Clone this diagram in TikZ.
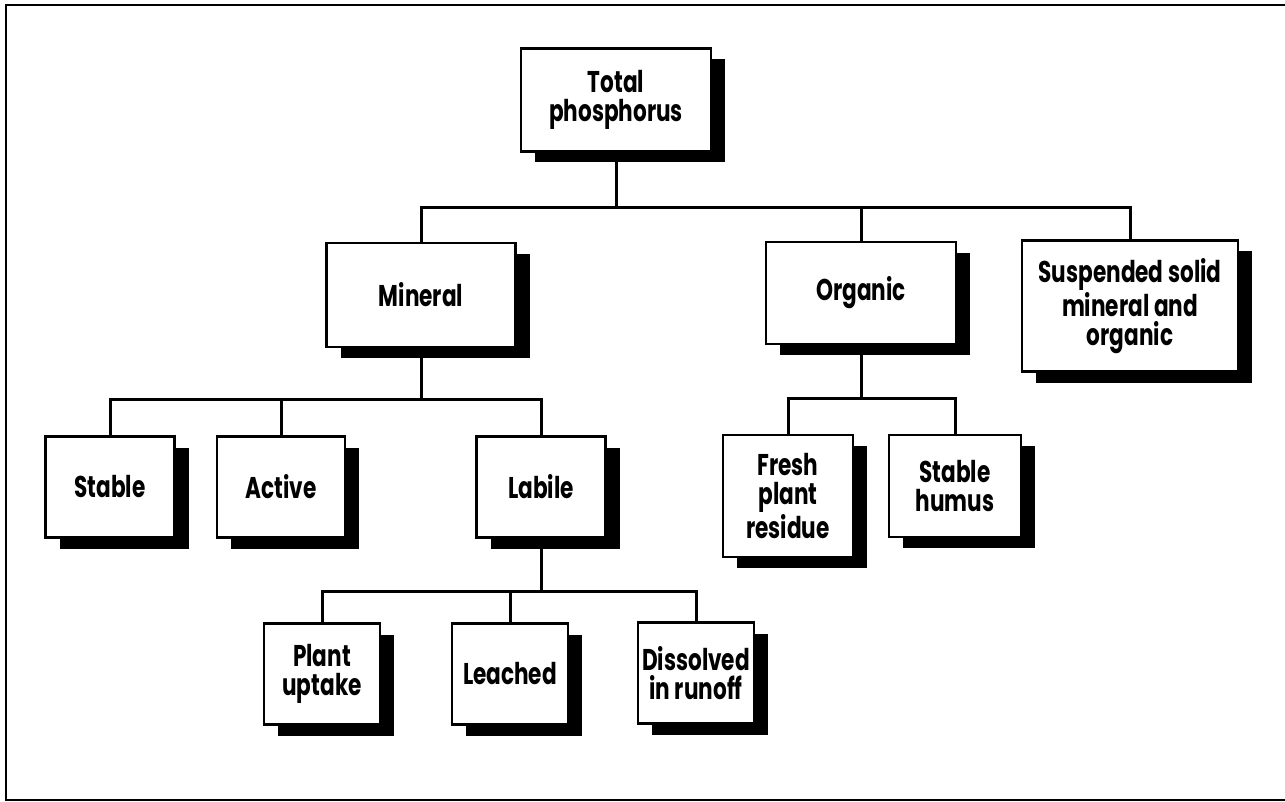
\documentclass[tikz,border=0pt]{standalone}
\usepackage{fontspec}
\setmainfont{Poppins}[FakeStretch=0.72]
\usepackage{tikz}
\usetikzlibrary{shadows}
\definecolor{boxline}{HTML}{000000}
\definecolor{boxfill}{HTML}{FFFFFF}
\tikzset{
  pbox/.style  = {rectangle, draw=boxline, fill=boxfill, line width=1.2pt,
                  align=center, font=\fontsize{15}{14.8}\selectfont\bfseries, inner sep=2pt,
                  drop shadow={shadow xshift=7pt, shadow yshift=-5.5pt, fill=black, opacity=1}},
  link/.style  = {line width=1.5pt, draw=boxline},
  frame/.style = {line width=1.3pt, draw=boxline},
}
\begin{document}
\begin{tikzpicture}[x=0.5pt, y=-0.5pt]
        \clip (0,0) rectangle (1285,802);
        \draw[frame] (1300,5) -- (6,5) -- (6,800) -- (1300,800);
        % top level
        \node[pbox, minimum width=95pt, minimum height=51.5pt] (tot) at (616,100) {Total\\phosphorus};
        \node[pbox, minimum width=94.5pt, minimum height=52pt] (min) at (421,295) {Mineral};
        \node[pbox, minimum width=95pt, minimum height=51pt] (org) at (861,293) {Organic};
        \node[pbox, minimum width=108pt, minimum height=65.5pt] (sus) at (1130,306) {Suspended solid\\mineral and\\organic};
        % mineral branch
        \node[pbox, minimum width=64.5pt, minimum height=50.5pt] (stb) at (110,487) {Stable};
        \node[pbox, minimum width=64pt, minimum height=50.5pt] (act) at (281,487) {Active};
        \node[pbox, minimum width=64.5pt, minimum height=50.5pt] (lab) at (541,487) {Labile};
        % organic branch
        \node[pbox, minimum width=65pt, minimum height=61pt] (fre) at (788,496) {Fresh\\plant\\residue};
        \node[pbox, minimum width=66pt, minimum height=51pt] (hum) at (955,486) {Stable\\humus};
        % labile branch
        \node[pbox, minimum width=58pt, minimum height=50.5pt] (upt) at (322,674) {Plant\\uptake};
        \node[pbox, minimum width=58pt, minimum height=50.5pt] (lea) at (510,674) {Leached};
        \node[pbox, minimum width=58pt, minimum height=50.5pt] (dis) at (696,673) {Dissolved\\in runoff};
        \foreach \c in {min, org, sus}{\draw[link] (tot.south) -- ++(0,55) -| (\c.north);}
        \foreach \c in {stb, act, lab}{\draw[link] (min.south) -- ++(0,51) -| (\c.north);}
        \foreach \c in {fre, hum}{\draw[link] (org.south) -- ++(0,53) -| (\c.north);}
        \foreach \c in {upt, lea, dis}{\draw[link] (lab.south) -- ++(0,53) -| (\c.north);}
    \end{tikzpicture}
\end{document}
